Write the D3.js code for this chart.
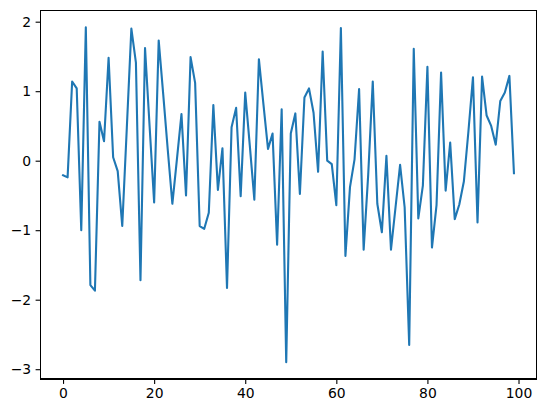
<!DOCTYPE html>
<html lang="en">
<head>
<meta charset="UTF-8">
<script src="https://cdn.jsdelivr.net/npm/d3@7"></script>
<style>
body { margin:0; background:#fff; }
.axis text { font-family: "DejaVu Sans", sans-serif; font-size: 13.9px; fill: #000; }
.axis line { stroke: #000; stroke-width: 1.1px; }
.line { fill: none; stroke: #1f77b4; stroke-width: 2.1px; stroke-linejoin: round; stroke-linecap: square; }
</style>
<title>Line</title>
</head>
<body>
<script>
// values, one per x = 0..99
var values = [
  -0.21, -0.24, 1.14, 1.04, -1.00, 1.92, -1.79, -1.87, 0.56, 0.28,
  1.48, 0.05, -0.15, -0.94, 0.47, 1.90, 1.41, -1.72, 1.62, 0.50,
  -0.60, 1.73, 0.95, 0.15, -0.62, 0.02, 0.67, -0.50, 1.49, 1.12,
  -0.94, -0.98, -0.75, 0.80, -0.42, 0.18, -1.83, 0.48, 0.76, -0.51,
  0.98, 0.22, -0.56, 1.46, 0.81, 0.17, 0.39, -1.21, 0.74, -2.90,
  0.39, 0.68, -0.48, 0.91, 1.04, 0.69, -0.16, 1.57, 0.00, -0.05,
  -0.64, 1.91, -1.37, -0.38, 0.02, 1.03, -1.28, -0.20, 1.14, -0.62,
  -1.03, 0.07, -1.28, -0.67, -0.06, -0.67, -2.65, 1.61, -0.83, -0.36,
  1.35, -1.25, -0.64, 1.27, -0.43, 0.26, -0.84, -0.63, -0.30, 0.42,
  1.20, -0.89, 1.21, 0.65, 0.50, 0.23, 0.86, 0.98, 1.22, -0.18
];
var xTicks = [0, 20, 40, 60, 80, 100];
var yTicks = [-3, -2, -1, 0, 1, 2];

var W = 546, H = 413;
var margin = {left: 40.5, right: 536.5, top: 10.5, bottom: 379};

var svg = d3.select("body").append("svg")
    .attr("width", W)
    .attr("height", H);

// matplotlib style 5% margins
var xExt = [0, values.length - 1];
var xPad = (xExt[1] - xExt[0]) * 0.05;
var yExt = d3.extent(values);
var yPad = (yExt[1] - yExt[0]) * 0.05;

var x = d3.scaleLinear()
    .domain([xExt[0] - xPad, xExt[1] + xPad])
    .range([margin.left, margin.right]);

var y = d3.scaleLinear()
    .domain([yExt[0] - yPad, yExt[1] + yPad])
    .range([margin.bottom, margin.top]);

var line = d3.line()
    .x(function(d, i) { return x(i); })
    .y(function(d) { return y(d); });

svg.append("path")
    .datum(values)
    .attr("class", "line")
    .attr("d", line);

var xAxis = svg.append("g")
    .attr("class", "axis")
    .attr("transform", "translate(0," + margin.bottom + ")")
    .call(d3.axisBottom(x).tickValues(xTicks).tickSize(4.9).tickPadding(4.5).tickFormat(d3.format("d")));

var yAxis = svg.append("g")
    .attr("class", "axis")
    .attr("transform", "translate(" + margin.left + ",0)")
    .call(d3.axisLeft(y).tickValues(yTicks).tickSize(4.9).tickPadding(4.5).tickFormat(d3.format("d")));

xAxis.select(".domain").remove();
yAxis.select(".domain").remove();

// frame
svg.append("rect")
    .attr("x", margin.left)
    .attr("y", margin.top)
    .attr("width", margin.right - margin.left)
    .attr("height", margin.bottom - margin.top)
    .attr("fill", "none")
    .attr("stroke", "#000")
    .attr("stroke-width", 1.1)
    .attr("shape-rendering", "crispEdges");
</script>
</body>
</html>
